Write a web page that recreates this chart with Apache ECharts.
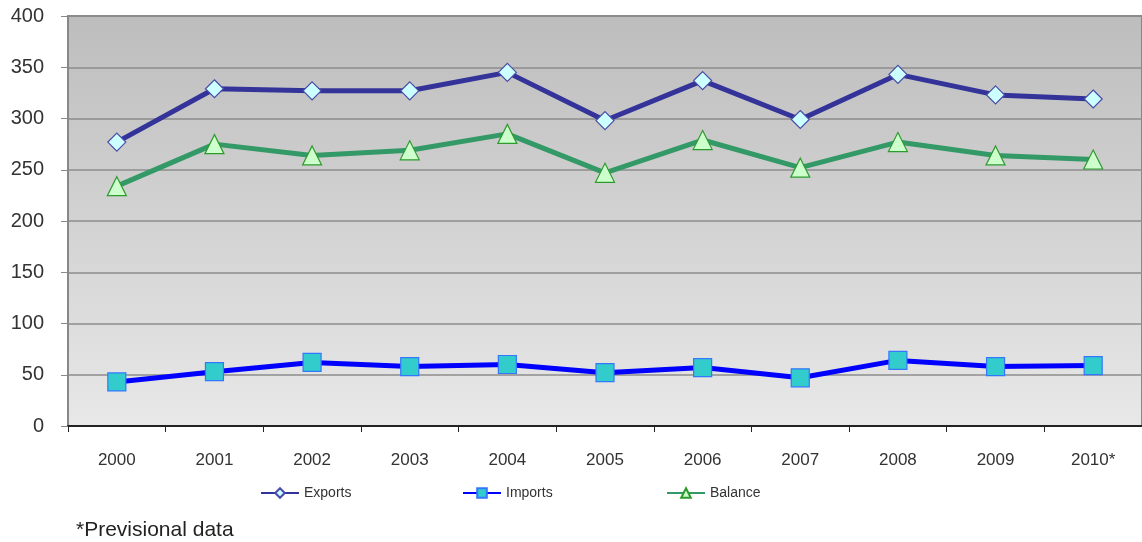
<!DOCTYPE html>
<html><head><meta charset="utf-8">
<script src="https://cdn.jsdelivr.net/npm/echarts@6/dist/echarts.min.js"></script>
<style>html,body{margin:0;padding:0;background:#fff}#c{width:1142px;height:542px}</style>
</head><body><div id="c"></div>
<script>
const years = ['2000','2001','2002','2003','2004','2005','2006','2007','2008','2009','2010*'];
const exportsData = [277, 329, 327, 327, 345, 298, 337, 299, 343, 323, 319];
const importsData = [43, 53, 62, 58, 60, 52, 57, 47, 64, 58, 59];
const balanceData = [234, 275, 264, 269, 285, 247, 279, 252, 277, 264, 260];
const seriesNames = ['Exports', 'Imports', 'Balance'];
const footnote = '*Previsional data';

const chart = echarts.init(document.getElementById('c'), null, {renderer: 'canvas'});
const font = 'Liberation Sans, Arial, sans-serif';
const legendFont = '"Liberation Sans Narrow", "Arial Narrow", Liberation Sans, sans-serif';
function legend(name, left) {
  return {data: [name], left: left, top: 481, itemWidth: 38, itemHeight: 12,
    textStyle: {fontFamily: legendFont, fontSize: 14, color: '#333'}, itemGap: 4};
}
chart.setOption({
  animation: false,
  textStyle: {fontFamily: font},
  title: {text: footnote, left: 76, top: 520, padding: 0, textStyle: {fontFamily: font, fontSize: 21, fontWeight: 'normal', color: '#222'}},
  legend: [legend(seriesNames[0], 255), legend(seriesNames[1], 457), legend(seriesNames[2], 661)],
  grid: {left: 68, top: 16, right: -4, height: 410, show: true,
    borderColor: '#888', borderWidth: 2,
    backgroundColor: new echarts.graphic.LinearGradient(0, 0, 0, 1, [
      {offset: 0, color: '#bdbdbd'}, {offset: 1, color: '#e8e8e8'}])},
  xAxis: {type: 'category', data: years, boundaryGap: true,
    axisLine: {lineStyle: {color: '#222', width: 2}},
    axisTick: {show: true, length: 6, lineStyle: {color: '#222'}},
    axisLabel: {fontSize: 17, color: '#333', margin: 26}},
  yAxis: {type: 'value', min: 0, max: 400, interval: 50,
    axisLine: {show: true, lineStyle: {color: '#888', width: 2}},
    axisTick: {show: true, length: 7, lineStyle: {color: '#888'}},
    axisLabel: {fontSize: 20, color: '#333', margin: 24},
    splitLine: {lineStyle: {color: '#8c8c8c', width: 1.5}}},
  series: [
    {name: seriesNames[0], type: 'line', data: exportsData, symbol: 'diamond', symbolSize: 18,
      lineStyle: {color: '#333399', width: 5}, itemStyle: {color: '#ccffff', borderColor: '#4a4aa8', borderWidth: 1.2}, z: 3},
    {name: seriesNames[1], type: 'line', data: importsData, symbol: 'rect', symbolSize: 18,
      lineStyle: {color: '#0000ff', width: 5}, itemStyle: {color: '#33cccc', borderColor: '#3377ff', borderWidth: 1.2}, z: 2},
    {name: seriesNames[2], type: 'line', data: balanceData, symbol: 'triangle', symbolSize: 19,
      lineStyle: {color: '#339966', width: 5}, itemStyle: {color: '#ccffcc', borderColor: '#2e9a2e', borderWidth: 1.2}, z: 2}
  ]
});
</script></body></html>
